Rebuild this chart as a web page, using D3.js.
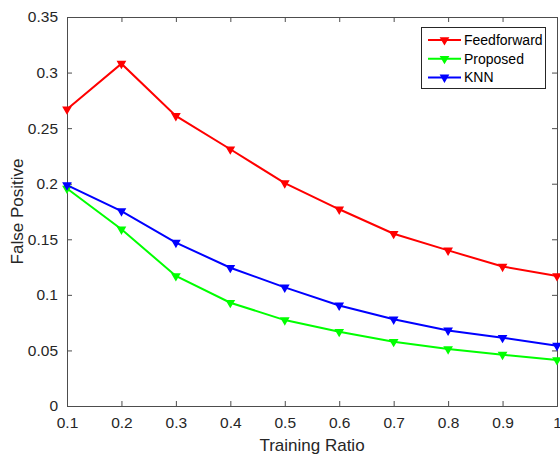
<!DOCTYPE html>
<html>
<head>
<meta charset="utf-8">
<script src="https://cdn.jsdelivr.net/npm/d3@7"></script>
<style>
body { margin: 0; background: #fff; }
text { font-family: "Liberation Sans", Arial, sans-serif; }
</style>
</head>
<body>
<div id="chart"></div>
<script>
var ratios = [0.1, 0.2, 0.3, 0.4, 0.5, 0.6, 0.7, 0.8, 0.9, 1.0];
var feedforward = [0.267, 0.308, 0.261, 0.231, 0.2005, 0.177, 0.155, 0.140, 0.1255, 0.117];
var proposed = [0.1957, 0.159, 0.117, 0.0929, 0.0773, 0.0668, 0.0578, 0.0512, 0.0462, 0.0414];
var knn = [0.1987, 0.1754, 0.147, 0.1244, 0.1067, 0.0905, 0.078, 0.068, 0.0614, 0.0543];
var seriesNames = ["Feedforward", "Proposed", "KNN"];
var seriesColors = ["#ff0000", "#00ff00", "#0000ff"];
var xTicks = [0.1, 0.2, 0.3, 0.4, 0.5, 0.6, 0.7, 0.8, 0.9, 1];
var yTicks = [0, 0.05, 0.1, 0.15, 0.2, 0.25, 0.3, 0.35];

var W = 560, H = 458;
// plot box (window.top is reserved, so prefix these)
var pLeft = 67, pRight = 557, pTop = 17, pBottom = 406;

var svg = d3.select("#chart").append("svg")
    .attr("width", W)
    .attr("height", H);

var x = d3.scaleLinear().domain([0.1, 1]).range([pLeft, pRight]);
var y = d3.scaleLinear().domain([0, 0.35]).range([pBottom, pTop]);

var axisColor = "#4d4d4d";
var fmt = function(d){ return String(+d.toFixed(2)); };

var gx = svg.append("g")
    .attr("transform", "translate(0," + pBottom + ")")
    .call(d3.axisBottom(x).tickValues(xTicks).tickSize(-5).tickPadding(11).tickFormat(fmt));
var gy = svg.append("g")
    .attr("transform", "translate(" + pLeft + ",0)")
    .call(d3.axisLeft(y).tickValues(yTicks).tickSize(-5).tickPadding(9).tickFormat(fmt));
// top and right: ticks only
var gt = svg.append("g")
    .attr("transform", "translate(0," + pTop + ")")
    .call(d3.axisTop(x).tickValues(xTicks).tickSize(-5).tickFormat(""));
var gr = svg.append("g")
    .attr("transform", "translate(" + pRight + ",0)")
    .call(d3.axisRight(y).tickValues(yTicks).tickSize(-5).tickFormat(""));

[gx, gy, gt, gr].forEach(function(g){
    g.select(".domain").attr("stroke", axisColor).attr("stroke-width", 1);
    g.selectAll(".tick line").attr("stroke", axisColor);
    g.selectAll(".tick text")
        .attr("fill", "#262626")
        .style("font-size", "15.5px")
        .style("font-family", "'Liberation Sans', Arial, sans-serif");
});

svg.append("text")
    .attr("x", (pLeft + pRight) / 2)
    .attr("y", 451)
    .attr("text-anchor", "middle")
    .attr("fill", "#262626")
    .style("font-size", "17px")
    .text("Training Ratio");

svg.append("text")
    .attr("transform", "translate(23," + ((pTop + pBottom) / 2) + ") rotate(-90)")
    .attr("text-anchor", "middle")
    .attr("fill", "#262626")
    .style("font-size", "17px")
    .text("False Positive");

var allSeries = [feedforward, proposed, knn];
var line = d3.line()
    .x(function(d, i){ return x(ratios[i]); })
    .y(function(d){ return y(d); });
var tri = d3.symbol().type(d3.symbolTriangle).size(22);

allSeries.forEach(function(vals, k){
    svg.append("path")
        .datum(vals)
        .attr("d", line)
        .attr("fill", "none")
        .attr("stroke", seriesColors[k])
        .attr("stroke-width", 2);
    svg.selectAll(".m" + k)
        .data(vals).enter()
        .append("path")
        .attr("class", "m" + k)
        .attr("d", tri)
        .attr("transform", function(d, i){
            return "translate(" + x(ratios[i]) + "," + y(d) + ") rotate(180)";
        })
        .attr("fill", seriesColors[k])
        .attr("stroke", seriesColors[k])
        .attr("stroke-width", 1.5);
});

// legend
var lg = svg.append("g");
lg.append("rect")
    .attr("x", 421.5)
    .attr("y", 27.5)
    .attr("width", 124)
    .attr("height", 61)
    .attr("fill", "#fff")
    .attr("stroke", "#262626")
    .attr("stroke-width", 1);
seriesNames.forEach(function(name, k){
    var yy = 40 + k * 18.7;
    lg.append("line")
        .attr("x1", 428).attr("x2", 461)
        .attr("y1", yy).attr("y2", yy)
        .attr("stroke", seriesColors[k])
        .attr("stroke-width", 2);
    lg.append("path")
        .attr("d", tri)
        .attr("transform", "translate(444.5," + yy + ") rotate(180)")
        .attr("fill", seriesColors[k])
        .attr("stroke", seriesColors[k])
        .attr("stroke-width", 1.5);
    lg.append("text")
        .attr("x", 464)
        .attr("y", yy + 5)
        .attr("fill", "#000")
        .style("font-size", "14px")
        .text(name);
});
</script>
</body>
</html>
